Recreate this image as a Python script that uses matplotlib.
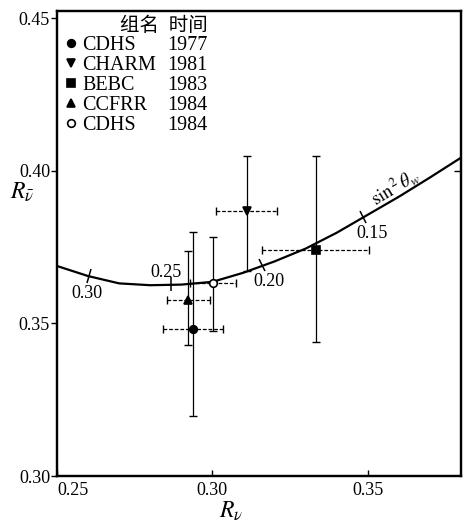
import numpy as np
import matplotlib
matplotlib.use("Agg")
import matplotlib.pyplot as plt
from matplotlib.lines import Line2D
from matplotlib.markers import MarkerStyle
from matplotlib.transforms import Affine2D

plt.rcParams['font.family'] = ['Liberation Serif', 'Noto Sans CJK SC']
plt.rcParams['mathtext.fontset'] = 'stix'

# 实验数据 (R_nu, R_nubar)
groups = ["CDHS", "CHARM", "BEBC", "CCFRR", "CDHS"]
years = ["1977", "1981", "1983", "1984", "1984"]
rv = [0.2937, 0.3110, 0.3332, 0.2923, 0.3003]
rv_err = [0.0097, 0.0098, 0.0172, 0.0070, 0.0074]
rvbar = [0.3483, 0.3867, 0.3740, 0.3577, 0.3633]
rvbar_lo = [0.0287, 0.0195, 0.0300, 0.0147, 0.0157]
rvbar_hi = [0.0316, 0.0180, 0.0307, 0.0160, 0.0150]
markers = ["o", "v", "s", "^", "o"]
filled = [True, True, True, True, False]

# 理论曲线 (sin^2 theta_w 参数)
curve_rv = [0.250, 0.260, 0.270, 0.280, 0.290, 0.300, 0.310, 0.320,
            0.330, 0.340, 0.350, 0.360, 0.370, 0.380]
curve_rvbar = [0.3688, 0.3655, 0.3631, 0.3625, 0.3627, 0.3636, 0.3666, 0.3703,
               0.3745, 0.3797, 0.3856, 0.3915, 0.3978, 0.4043]

# 曲线上的 sin^2 theta_w 刻度
sin2_labels = ["0.30", "0.25", "0.20", "0.15"]
sin2_rv = [0.2603, 0.2868, 0.3161, 0.3484]
sin2_rvbar = [0.3655, 0.3629, 0.3691, 0.3848]
sin2_angle = [-16, 0, 22, 30]
sin2_text_rv = [0.2597, 0.2852, 0.3182, 0.3513]
sin2_text_rvbar = [0.3598, 0.3668, 0.3636, 0.3796]

fig = plt.figure(figsize=(4.63, 5.26), dpi=100)
ax = fig.add_axes([0.123, 0.095, 0.873, 0.884])

ax.plot(curve_rv, curve_rvbar, color="k", lw=1.6, solid_capstyle="round")

for lab, x, y, a, tx, ty in zip(sin2_labels, sin2_rv, sin2_rvbar, sin2_angle,
                                sin2_text_rv, sin2_text_rvbar):
    m = MarkerStyle("|", transform=Affine2D().rotate_deg(a))
    ax.plot(x, y, marker=m, ms=10, mew=1.1, color="k", ls="none")
    ax.text(tx, ty, lab, fontsize=13, ha="center", va="center")

ax.text(0.3585, 0.3948, r"$\mathrm{sin}^{\,2}\,\theta_w$", fontsize=13.5,
        rotation=31, ha="center", va="center")

handles = []
for i in range(len(rv)):
    ax.errorbar(rv[i], rvbar[i], yerr=[[rvbar_lo[i]], [rvbar_hi[i]]], fmt="none",
                ecolor="k", elinewidth=0.9, capsize=3, capthick=1.0)
    eb = ax.errorbar(rv[i], rvbar[i], xerr=rv_err[i], fmt="none",
                     ecolor="k", elinewidth=0.9, capsize=3, capthick=1.0)
    eb[2][0].set_linestyle((0, (3, 1.5)))
    h, = ax.plot(rv[i], rvbar[i], marker=markers[i], ms=5.5, ls="none",
                 mfc="k" if filled[i] else "white", mec="k", mew=1.2, zorder=5)
    handles.append(h)

blank = [Line2D([], [], ls="none") for _ in years]
leg = ax.legend(handles + blank, groups + years, ncol=2, loc="upper left",
                bbox_to_anchor=(0.02, 0.987), frameon=False, fontsize=14.5,
                title="组名  时间", title_fontsize=14, alignment="right",
                handlelength=0.55, handletextpad=0.3, columnspacing=-0.3,
                labelspacing=0.04, borderpad=0, borderaxespad=0)

ax.set_xlim(0.25, 0.38)
ax.set_ylim(0.30, 0.4523)
ax.set_xticks([0.25, 0.30, 0.35])
ax.set_yticks([0.30, 0.35, 0.40, 0.45])
ax.set_xticklabels(["0.25", "0.30", "0.35"], fontsize=13)
ax.set_yticklabels(["0.30", "0.35", "0.40", "0.45"], fontsize=13)
ax.get_xticklabels()[0].set_ha("left")
ax.tick_params(axis="x", direction="in", length=4, width=1, pad=4)
ax.tick_params(axis="y", direction="out", length=4, width=1, pad=1)

ax2 = ax.twinx()
ax2.set_ylim(ax.get_ylim())
ax2.set_yticks([0.40])
ax2.tick_params(axis="y", direction="in", length=5, width=1, labelright=False)

for a in (ax, ax2):
    for s in a.spines.values():
        s.set_linewidth(1.6)

ax.set_xlabel(r"$R_\nu$", fontsize=17, va="center")
ax.xaxis.set_label_coords(0.43, -0.076)
ax.set_ylabel(r"$R_{\bar{\nu}}$", fontsize=17, rotation=0, va="center", ha="center")
ax.yaxis.set_label_coords(-0.085, 0.61)

fig.savefig("out.png", dpi=100)
